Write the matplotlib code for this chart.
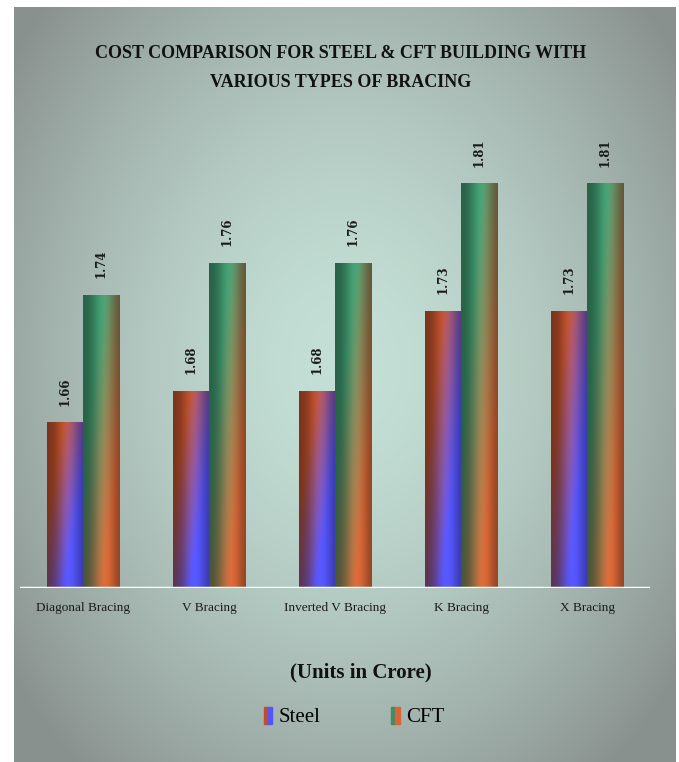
"""Confronto costi Steel vs CFT per vari tipi di controvento."""
import matplotlib

matplotlib.use("Agg")
import matplotlib.pyplot as plt
import numpy as np
from matplotlib.legend_handler import HandlerTuple
from matplotlib.patches import Patch

categories = ["Diagonal Bracing", "V Bracing", "Inverted V Bracing", "K Bracing", "X Bracing"]
steel = [1.66, 1.68, 1.68, 1.73, 1.73]
cft = [1.74, 1.76, 1.76, 1.81, 1.81]
series_names = ["Steel", "CFT"]

W, H = 679, 762
Y_MIN, Y_MAX = 1.556, 1.831

STEEL_A = np.array([0.78, 0.33, 0.18])  # arancio in alto
STEEL_B = np.array([0.33, 0.33, 0.98])  # blu in basso
CFT_A = np.array([0.26, 0.62, 0.45])    # verde in alto
CFT_B = np.array([0.84, 0.40, 0.21])    # arancio in basso


def bar_gradient(col_a, col_b, wu, off, n=64):
    u = np.linspace(0, 1, n)[None, :]
    v = np.linspace(1, 0, 4 * n)[:, None]  # riga 0 = alto
    t = np.clip(wu * u + off + (1 - v) * 0.95, 0, 1)[..., None]
    rgb = col_a * (1 - t) + col_b * t
    shade = 0.6 + 0.45 * np.exp(-((u - 0.58) / 0.33) ** 2)
    return np.clip(rgb * shade[..., None], 0, 1)


def background(n=300):
    x = np.linspace(-1, 1, n)[None, :]
    y = np.linspace(-1, 1, n)[:, None]
    r = np.clip(np.sqrt(x ** 2 + ((y + 0.05) * 0.9) ** 2) / 1.25, 0, 1)
    centre = np.array([0.77, 0.88, 0.84])
    edge = np.array([0.54, 0.57, 0.56])
    t = (r ** 1.6)[..., None]
    return centre * (1 - t) + edge * t


fig = plt.figure(figsize=(W / 100, H / 100), dpi=100)
fig.patch.set_facecolor("white")

bg = fig.add_axes([14 / W, 0, (676 - 14) / W, (H - 7) / H], zorder=0)
bg.imshow(background(), aspect="auto", extent=[0, 1, 0, 1], interpolation="bilinear")
bg.set_axis_off()

ax = fig.add_axes([20 / W, (H - 588) / H, 630 / W, (588 - 150) / H], zorder=1)
ax.patch.set_alpha(0)

x = np.arange(len(categories))
width = 0.286
bars_steel = ax.bar(x - width / 2, steel, width, color="none", zorder=2)
bars_cft = ax.bar(x + width / 2, cft, width, color="none", zorder=2)

ax.set_xlim(-0.5, len(categories) - 0.5)
ax.set_ylim(Y_MIN, Y_MAX)

for bars, ca, cb, wu, off in [(bars_steel, STEEL_A, STEEL_B, 1.25, -0.55),
                              (bars_cft, CFT_A, CFT_B, 1.15, -0.62)]:
    grad = bar_gradient(ca, cb, wu, off)
    for b in bars:
        x0, w, h = b.get_x(), b.get_width(), b.get_height()
        im = ax.imshow(grad, aspect="auto", extent=[x0, x0 + w, Y_MIN, h],
                       interpolation="bilinear", zorder=2)
        im.set_clip_path(b)
        ax.annotate(f"{h:.2f}", (x0 + w / 2, h), xytext=(0, 12), textcoords="offset points",
                    rotation=90, ha="center", va="bottom", fontsize=8.5,
                    fontweight="bold", family="DejaVu Serif", color="#1a1a1a")

ax.axhline(Y_MIN, color="white", lw=2.5, zorder=3)
for s in ax.spines.values():
    s.set_visible(False)
ax.set_yticks([])
ax.set_xticks(x)
ax.set_xticklabels(categories, family="Liberation Serif", fontsize=9.5, color="#1a1a1a")
ax.tick_params(axis="x", length=0, pad=10)

fig.text(0.502, (H - 68) / H, "COST COMPARISON FOR STEEL & CFT BUILDING WITH\nVARIOUS TYPES OF BRACING",
         ha="center", va="center", family="Liberation Serif", fontweight="bold",
         fontsize=13, linespacing=1.95, color="#111111")

fig.text(361 / W, (H - 672) / H, "(Units in Crore)", ha="center", va="center",
         family="Liberation Serif", fontweight="bold", fontsize=15, color="#111111")

handles = [
    (Patch(color=STEEL_A * 0.95), Patch(color=STEEL_B)),
    (Patch(color=CFT_A * 0.9), Patch(color=CFT_B)),
]
fig.legend(handles, series_names, handler_map={tuple: HandlerTuple(ndivide=None, pad=0)},
           loc="center", bbox_to_anchor=(354 / W, (H - 717) / H), ncol=2, frameon=False,
           prop={"family": "Liberation Serif", "size": 15}, handlelength=0.4,
           handleheight=0.9, handletextpad=0.3, columnspacing=3.4)

fig.savefig("out.png", dpi=100)
plt.close(fig)
